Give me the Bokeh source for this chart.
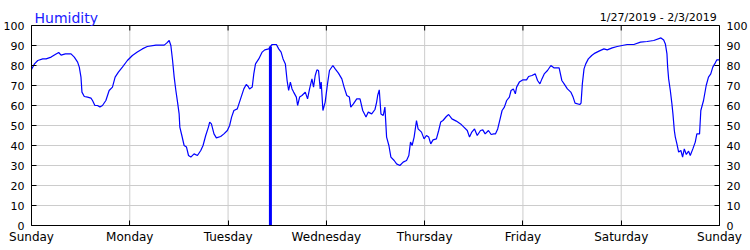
from bokeh.plotting import figure
from bokeh.models import Range1d, FixedTicker, Label, Span
from bokeh.embed import file_html
from bokeh.resources import INLINE
from bokeh.models import LinearAxis

# Hours since Sunday 1/27/2019 00:00
hours = [
    0, 0.73, 1.53, 2.75, 3.57, 4.79, 5.59, 6.64, 7.22, 8.27,
    9.65, 10.45, 11.26, 11.67, 12.08, 12.32, 12.89, 13.69, 14.52, 14.9,
    15.48, 16.12, 16.7, 17.33, 18.16, 18.96, 19.77, 20.42, 21.22, 22.2,
    23.41, 24.63, 25.84, 27.06, 28.27, 30.39, 32.41, 33.06, 33.62, 34.03,
    34.45, 34.84, 35.25, 35.66, 36.05, 36.22, 36.71, 37.27, 37.85, 38.34,
    38.9, 39.7, 40.52, 41.33, 41.89, 42.54, 43.2, 43.51, 43.93, 44.56,
    45.14, 46.19, 46.99, 47.82, 48.38, 48.86, 49.42, 50.25, 51.05, 51.85,
    52.44, 52.92, 53.24, 53.9, 54.28, 54.7, 55.5, 56.33, 56.96, 57.93,
    58.34, 58.76, 59.8, 60.36, 60.95, 61.43, 61.99, 62.41, 62.79, 63.21,
    63.62, 64.01, 64.67, 64.98, 65.47, 66.05, 66.85, 67.41, 67.9, 68.48,
    68.87, 69.28, 69.7, 70.09, 70.5, 70.74, 71.16, 71.71, 72.28, 72.76,
    73.59, 74.15, 74.95, 75.78, 76.33, 76.99, 77.62, 77.96, 78.6, 79.42,
    80.22, 80.88, 81.68, 82.24, 83.07, 83.87, 84.28, 84.53, 84.92, 85.33,
    85.89, 86.3, 86.71, 87.27, 87.76, 88.56, 89.15, 89.95, 90.75, 91.58,
    92.14, 92.55, 92.94, 93.43, 94.01, 94.4, 95.23, 95.86, 96.44, 97.0,
    97.49, 98.05, 98.87, 99.43, 99.92, 100.48, 101.3, 101.86, 102.66, 103.73,
    104.78, 105.58, 106.41, 106.96, 107.52, 108.18, 108.84, 109.64, 110.2, 110.78,
    111.58, 112.24, 112.87, 113.28, 113.84, 114.43, 114.91, 115.47, 116.03, 116.69,
    117.1, 117.66, 118.15, 118.46, 119.12, 119.92, 120.89, 121.38, 122.2, 123.01,
    123.57, 124.15, 124.64, 125.2, 126.0, 126.83, 127.63, 128.84, 129.5, 130.06,
    130.86, 131.69, 132.25, 132.73, 133.88, 134.19, 134.51, 134.92, 135.34, 135.97,
    136.79, 137.6, 138.57, 139.78, 140.59, 141.8, 143.02, 144.23, 145.45, 147.08,
    148.71, 150.31, 151.94, 153.71, 154.37, 154.78, 155.17, 155.34, 155.58, 155.99,
    156.38, 156.63, 156.97, 157.21, 157.6, 158.02, 158.57, 158.99, 159.4, 159.89,
    160.45, 160.86, 161.49, 162.08, 162.47, 163.13, 163.44, 164.1, 164.75, 165.31,
    165.87, 166.36, 166.94, 167.33, 168.0,
]

humidity = [
    78, 80.8, 82.5, 83.3, 83.3, 84.2, 85.3, 86.5, 85.2, 85.8,
    85.8, 84.2, 81.7, 79.2, 74.2, 66.7, 64.5, 64.2, 63.7, 62.5,
    60, 60, 59.2, 60, 62.5, 67.5, 69.2, 74.2, 76.7, 79.2,
    82.5, 85, 86.7, 88.3, 89.5, 90.2, 90.2, 91.3, 92.5, 90,
    82.5, 74.2, 67.5, 61.7, 55.8, 49.2, 45, 40, 39.2, 35,
    34.2, 35.8, 35, 37.5, 40, 45, 49.2, 51.7, 50.8, 45.8,
    43.8, 44.5, 45.8, 47.5, 50, 54.2, 57.5, 58.3, 63.3, 68.3,
    70.5, 69.5, 68.3, 69.2, 75.8, 80.8, 83.3, 86.7, 87.8, 88.3,
    89.5, 90.5, 90.5, 88.3, 86.7, 83.3, 80.8, 72.5, 67.5, 71.7,
    68.3, 66.7, 64.2, 60, 64.2, 65, 66.7, 63.3, 68.3, 73.3,
    69.2, 75, 77.8, 77.5, 68.3, 71.7, 57.5, 61.7, 70.8, 77.5,
    80, 78.3, 76.2, 73.3, 69.2, 65, 64.2, 59.2, 60.8, 63.3,
    63.3, 57.5, 54.2, 56.7, 55.8, 58, 61.7, 65, 67.8, 55.8,
    55, 59.2, 44.2, 40, 34.2, 32.5, 30.8, 30, 31.7, 32.5,
    35, 41.7, 40, 44.2, 52.5, 48.3, 46.7, 43.3, 45, 44.2,
    40.8, 42.8, 43.3, 47.5, 51.7, 52.5, 54.5, 55.5, 53.3, 52.2,
    50.8, 49.2, 47.5, 44.2, 46.7, 48.3, 45, 47.5, 47.8, 45.8,
    47.5, 45.5, 45.8, 45.8, 48.3, 53.3, 57.5, 59.2, 62.5, 64.2,
    67.5, 68.3, 65.8, 69.2, 71.7, 72.8, 72.8, 74.5, 75, 75.8,
    72.5, 70.8, 73.3, 75.8, 77.5, 80, 78.8, 78.8, 72.5, 70.8,
    68.3, 66.7, 64.2, 61.2, 60.5, 61.2, 70.8, 78.3, 80.8, 83.3,
    85, 86.2, 87.2, 88.3, 87.8, 88.8, 89.5, 90, 90.5, 90.5,
    91.7, 92, 92.5, 93.8, 92.8, 90.8, 85.8, 79.2, 73.3, 67.5,
    60.8, 55.8, 47.5, 44.2, 40.8, 36.7, 37.5, 34.2, 38.3, 35.5,
    37.2, 35, 38.3, 41.7, 45.8, 45.8, 57.5, 62.5, 70, 74.2,
    75.8, 79.2, 81.2, 82.8, 82.8,
]

marker_hour = [58.34]
marker_value = [89.5]

day_ticks = [0, 24, 48, 72, 96, 120, 144, 168]
day_labels = ["Sunday", "Monday", "Tuesday", "Wednesday", "Thursday",
              "Friday", "Saturday", "Sunday"]
y_ticks = [0, 10, 20, 30, 40, 50, 60, 70, 80, 90, 100]

title_text = "Humidity"
range_text = "1/27/2019 - 2/3/2019"

FONT = "DejaVu Sans"
Y_MIN, Y_MAX = y_ticks[0], y_ticks[-1]
X_MIN, X_MAX = day_ticks[0], day_ticks[-1]
HEADROOM = 12.5          # value units of white space above the chart for the titles
TICK_UNITS = 2.5         # tick length (5 px) in value units

p = figure(width=750, height=250, output_backend="svg", toolbar_location=None,
           x_range=Range1d(X_MIN, X_MAX), y_range=Range1d(Y_MIN, Y_MAX + HEADROOM),
           min_border_left=30, min_border_right=29,
           min_border_top=0, min_border_bottom=25)
p.background_fill_color = "white"
p.border_fill_color = "white"
p.outline_line_color = None

xt = FixedTicker(ticks=day_ticks)
yt = FixedTicker(ticks=y_ticks)
p.xaxis.ticker = xt
p.yaxis.ticker = yt
p.xgrid.visible = False
p.ygrid.ticker = yt
p.ygrid.grid_line_color = "#cccccc"

p.add_layout(LinearAxis(ticker=yt), "right")

for ax in p.axis:
    ax.axis_line_color = "black"
    ax.major_tick_line_color = "black"
    ax.major_tick_in = 5
    ax.major_tick_out = 0
    ax.minor_tick_line_color = None
    ax.major_label_text_font = FONT
    ax.major_label_text_color = "black"

for ax in p.xaxis:
    ax.major_label_overrides = {t: l for t, l in zip(day_ticks, day_labels)}
    ax.major_label_text_font_size = "12px"
    ax.major_label_standoff = 4
for ax in p.yaxis:
    ax.bounds = (Y_MIN, Y_MAX)
    ax.major_label_text_font_size = "11px"
    ax.major_label_standoff = 7

# vertical grid lines, limited to the chart area
p.segment(x0=day_ticks, y0=[Y_MIN] * len(day_ticks), x1=day_ticks,
          y1=[Y_MAX] * len(day_ticks), line_color="#cccccc", line_width=1,
          level="underlay")
# top frame edge and its inward ticks
p.add_layout(Span(location=Y_MAX, dimension="width", line_color="black",
                  line_width=1))
p.segment(x0=day_ticks, y0=[Y_MAX] * len(day_ticks), x1=day_ticks,
          y1=[Y_MAX - TICK_UNITS] * len(day_ticks), line_color="black",
          line_width=1)

p.line(hours, humidity, line_color="#0000ff", line_width=1.2)
p.segment(x0=marker_hour, y0=[Y_MIN], x1=marker_hour, y1=marker_value,
          line_color="#0000ff", line_width=3)

p.add_layout(Label(x=0.73, y=104, text=title_text, text_color="#2020ff",
                   text_font=FONT, text_font_size="14px",
                   text_baseline="alphabetic"))
p.add_layout(Label(x=167.3, y=104, text=range_text, text_color="black",
                   text_font=FONT, text_font_size="11px", text_align="right",
                   text_baseline="alphabetic"))

open("out.html", "w").write(file_html(p, INLINE))
